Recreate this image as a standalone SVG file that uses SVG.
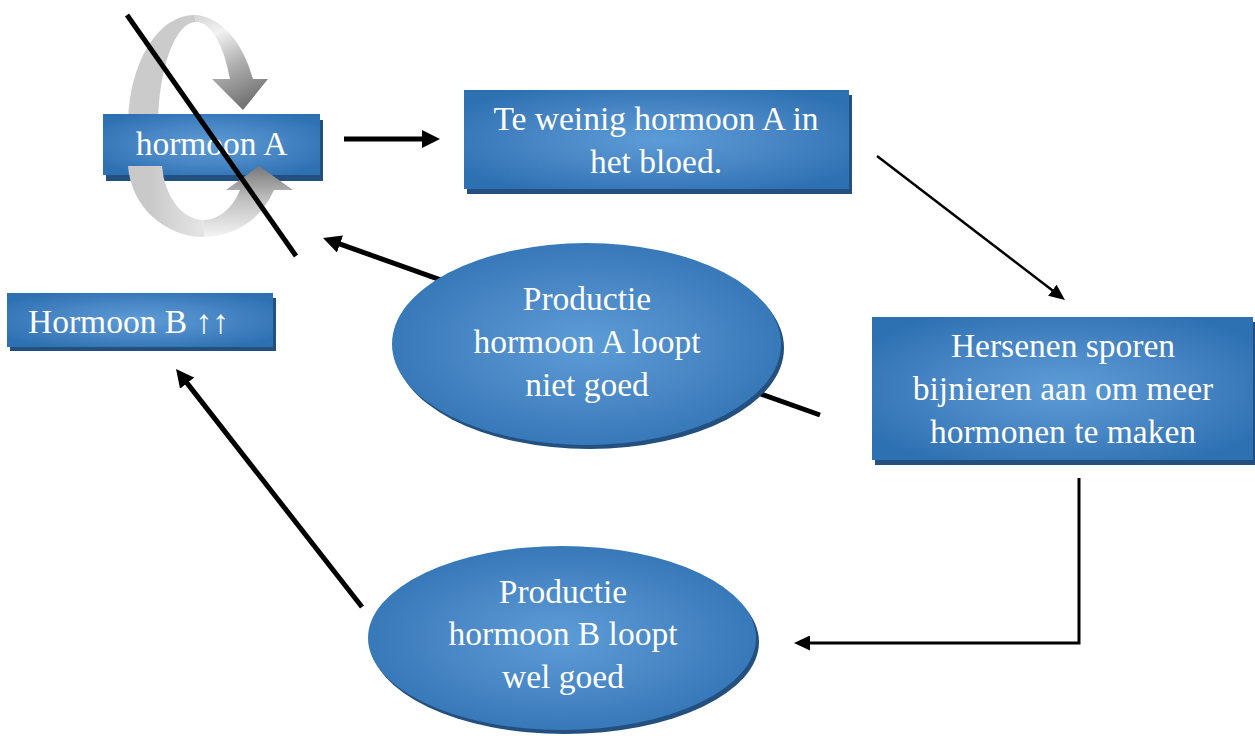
<svg xmlns="http://www.w3.org/2000/svg" width="1255" height="736" viewBox="0 0 1255 736">
  <style>
    .txt { font-family: "Liberation Serif", "Times New Roman", serif; font-size: 33.5px; fill: #ffffff; }
    .mid { text-anchor: middle; }
    .shadow { fill: #23507e; }
    .box { fill: url(#blueGrad); }
    .thick { stroke: #000; stroke-width: 5; fill: none; }
    .thin { stroke: #000; stroke-width: 2.5; fill: none; }
    .med { stroke: #000; stroke-width: 3; fill: none; }
  </style>
  <defs>
    <radialGradient id="blueGrad" cx="50%" cy="50%" r="60%">
      <stop offset="0" stop-color="#5c9cd6"/>
      <stop offset="0.55" stop-color="#4785c4"/>
      <stop offset="1" stop-color="#2e71b2"/>
    </radialGradient>
    <linearGradient id="grayTopR" gradientUnits="userSpaceOnUse" x1="194" y1="15" x2="243" y2="110">
      <stop offset="0" stop-color="#d4d4d4"/>
      <stop offset="0.25" stop-color="#f2f2f2"/>
      <stop offset="0.6" stop-color="#adadad"/>
      <stop offset="1" stop-color="#6e6e6e"/>
    </linearGradient>
    <linearGradient id="grayBotL" gradientUnits="userSpaceOnUse" x1="150" y1="0" x2="210" y2="0">
      <stop offset="0" stop-color="#c9c9c9"/>
      <stop offset="1" stop-color="#e9e9e9"/>
    </linearGradient>
    <linearGradient id="grayBotR" gradientUnits="userSpaceOnUse" x1="0" y1="237" x2="0" y2="166">
      <stop offset="0" stop-color="#f4f4f4"/>
      <stop offset="0.55" stop-color="#bdbdbd"/>
      <stop offset="1" stop-color="#787878"/>
    </linearGradient>
    <marker id="headThick" markerUnits="userSpaceOnUse" markerWidth="18" markerHeight="18" refX="2" refY="9" orient="auto">
      <path d="M0,0 L18,9 L0,18 z" fill="#000"/>
    </marker>
    <marker id="headThin" markerUnits="userSpaceOnUse" markerWidth="16" markerHeight="14" refX="2" refY="7" orient="auto">
      <path d="M0,0 L16,7 L0,14 z" fill="#000"/>
    </marker>
    <marker id="headMed" markerUnits="userSpaceOnUse" markerWidth="16" markerHeight="15" refX="2" refY="7.5" orient="auto">
      <path d="M0,0 L16,7.5 L0,15 z" fill="#000"/>
    </marker>
  </defs>

  <rect width="1255" height="736" fill="#ffffff"/>

  <g id="connectors">
    <line class="thick" x1="344" y1="139" x2="424" y2="139" marker-end="url(#headThick)"/>
    <line class="thin" x1="877" y1="156" x2="1053.9" y2="291.5" marker-end="url(#headThin)"/>
    <line class="thick" x1="820" y1="415" x2="338.1" y2="243.4" marker-end="url(#headThick)"/>
    <path class="med" d="M1079,478 V643 H808" marker-end="url(#headMed)"/>
    <line class="thick" x1="362" y1="607" x2="185.9" y2="381.6" marker-end="url(#headThick)"/>
  </g>

  <g id="hormoonA">
    <path d="M128,120 A66,111 0 0 1 194,15 L196,22 A38,106 0 0 0 158,120 Z" fill="#cbcbcb"/>
    <path d="M194,15 A66,111 0 0 1 253,79 L268,79 L243,110 L212,79 L230,79 A38,106 0 0 0 196,22 Z" fill="url(#grayTopR)"/>
    <rect class="shadow" x="106" y="120" width="217" height="61"/>
    <rect class="box" x="103" y="114" width="217" height="61"/>
    <path d="M128,166 A76,77 0 0 0 204,237 L204,220 A42,60 0 0 1 162,166 Z" fill="url(#grayBotL)"/>
    <path d="M204,237 A76,77 0 0 0 274,190 L293,190 L259,166 L226,190 L240,190 A42,60 0 0 1 204,220 Z" fill="url(#grayBotR)"/>
    <text class="txt mid" x="211.5" y="155">hormoon A</text>
  </g>

  <g id="teWeinig">
    <rect class="shadow" x="467" y="95" width="385" height="99"/>
    <rect class="box" x="464" y="90" width="385" height="99"/>
    <text class="txt mid" x="656" y="130">Te weinig hormoon A in</text>
    <text class="txt mid" x="656" y="173">het bloed.</text>
  </g>

  <g id="hormoonB">
    <rect class="shadow" x="10" y="298" width="266" height="53"/>
    <rect class="box" x="7" y="293" width="266" height="54"/>
    <text class="txt" x="28" y="333">Hormoon B ↑↑</text>
  </g>

  <g id="hersenen">
    <rect class="shadow" x="875" y="322" width="381" height="143"/>
    <rect class="box" x="872" y="317" width="381" height="143"/>
    <text class="txt mid" x="1063" y="357">Hersenen sporen</text>
    <text class="txt mid" x="1063" y="400">bijnieren aan om meer</text>
    <text class="txt mid" x="1063" y="443">hormonen te maken</text>
  </g>

  <g id="productieA">
    <ellipse class="shadow" cx="589.5" cy="348" rx="194.5" ry="101"/>
    <ellipse class="box" cx="586.5" cy="344" rx="194.5" ry="101"/>
    <text class="txt mid" x="587" y="310">Productie</text>
    <text class="txt mid" x="587" y="353">hormoon A loopt</text>
    <text class="txt mid" x="587" y="396">niet goed</text>
  </g>

  <g id="productieB">
    <ellipse class="shadow" cx="565" cy="642" rx="194" ry="92"/>
    <ellipse class="box" cx="562" cy="638" rx="194" ry="92"/>
    <text class="txt mid" x="563" y="603">Productie</text>
    <text class="txt mid" x="563" y="645">hormoon B loopt</text>
    <text class="txt mid" x="563" y="688">wel goed</text>
  </g>

  <g id="strike">
    <line class="thick" x1="127" y1="15" x2="296" y2="256"/>
  </g>
</svg>
